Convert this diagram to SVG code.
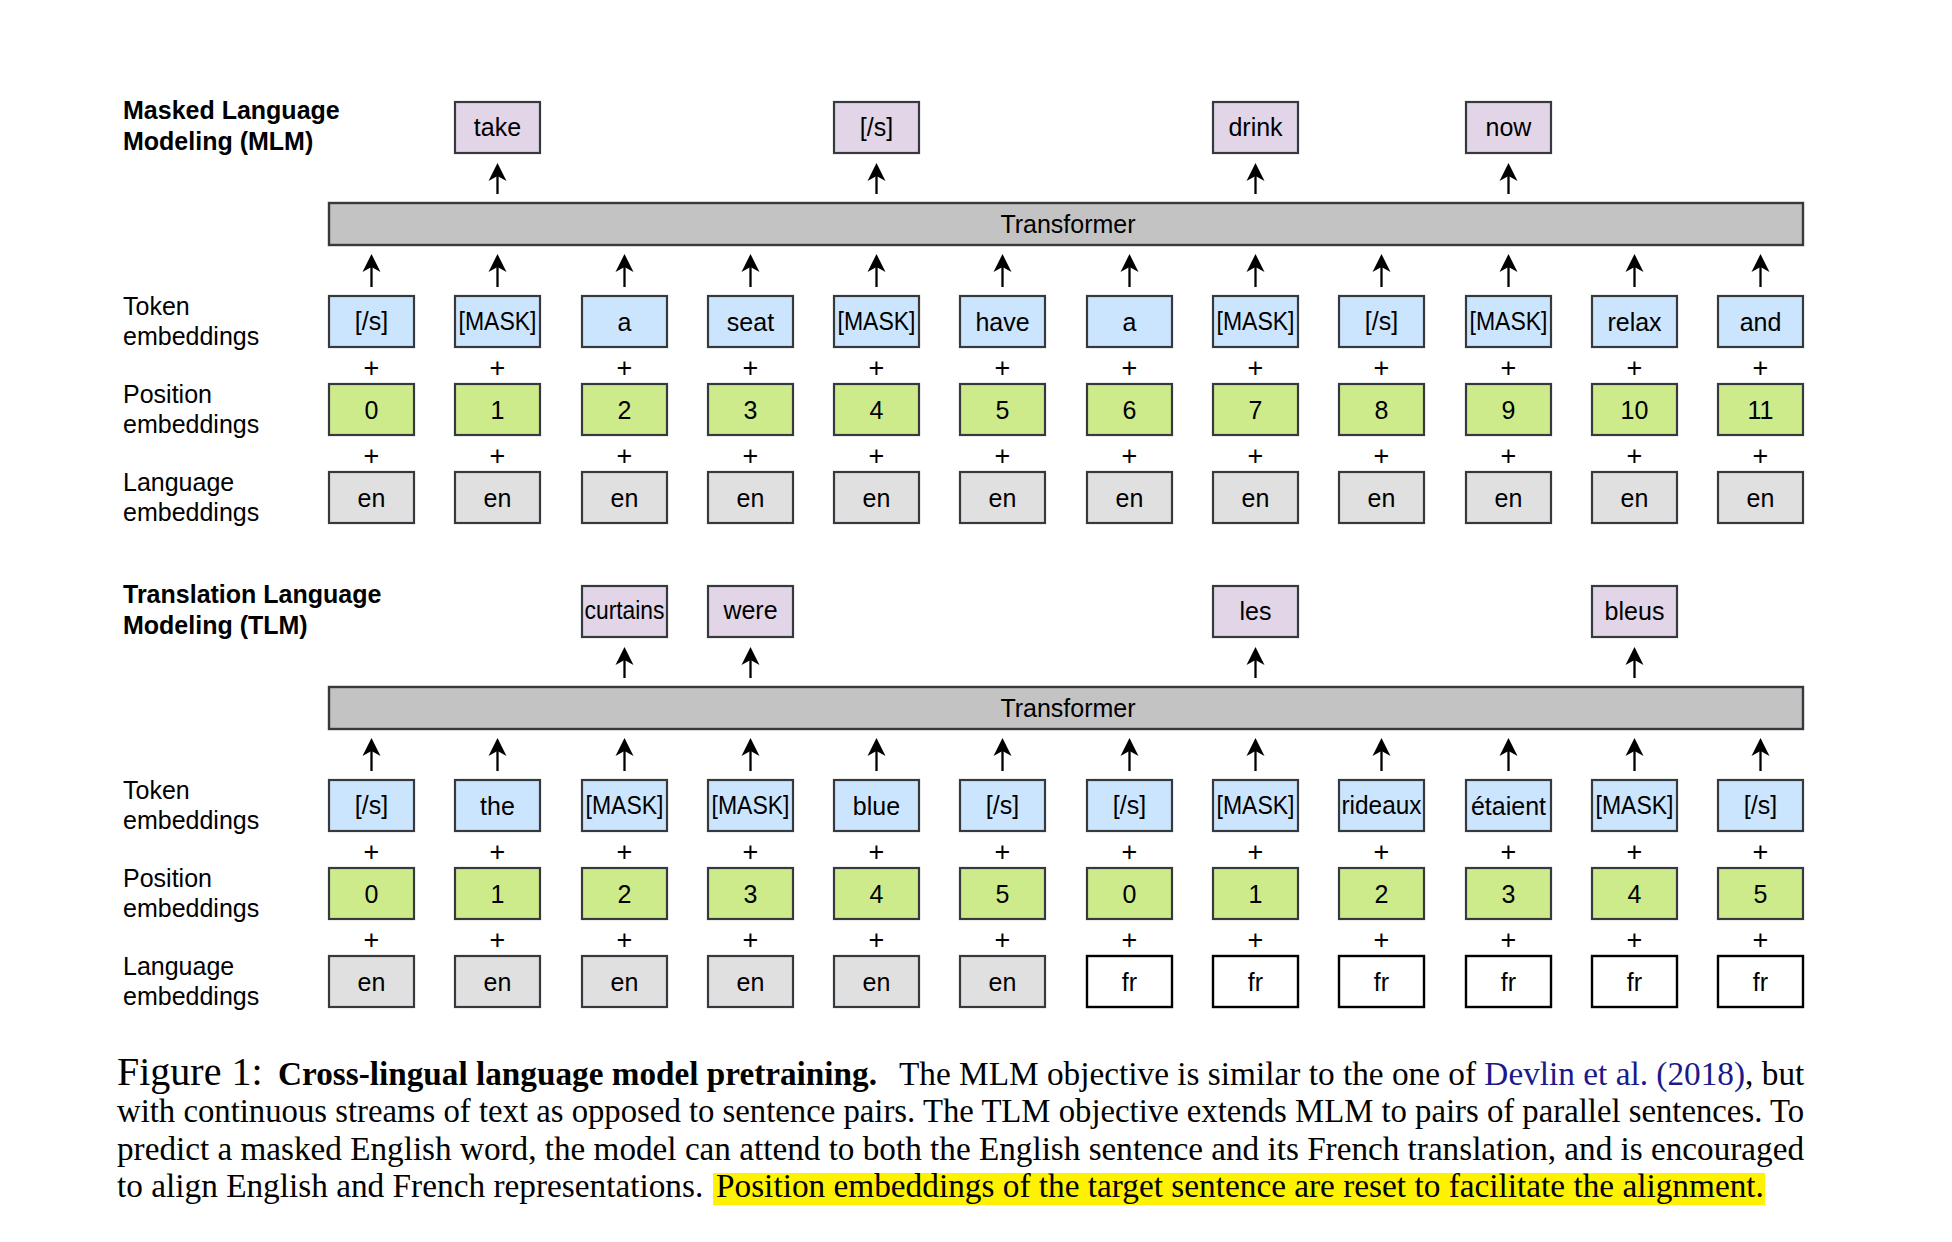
<svg xmlns="http://www.w3.org/2000/svg" width="1952" height="1242" viewBox="0 0 1952 1242">
<defs>
<style>
.bx{stroke:#36393d;stroke-width:2.2}
.out{fill:#e1d5e7}
.tok{fill:#cce5ff}
.pos{fill:#cdeb8b}
.en{fill:#e0e0e0}
.fr{fill:#ffffff;stroke:#000000;stroke-width:2.4}
.bar{fill:#c3c3c3;stroke:#36393d;stroke-width:2.4}
.t{font-family:"Liberation Sans",Arial,Helvetica,sans-serif;font-size:25px;fill:#000;text-anchor:middle}
.pl{font-family:"Liberation Sans",Arial,Helvetica,sans-serif;font-size:27px;fill:#000;text-anchor:middle}
.lb{font-family:"Liberation Sans",Arial,Helvetica,sans-serif;font-size:25px;fill:#000}
.ti{font-family:"Liberation Sans",Arial,Helvetica,sans-serif;font-size:25px;font-weight:bold;fill:#000}
.cap{font-family:"Liberation Serif","Times New Roman",serif;font-size:33.3px;fill:#000}
.arr{stroke:#000;stroke-width:2.3;fill:none;marker-end:url(#ah)}
</style>
<marker id="ah" markerWidth="20" markerHeight="20" refX="5" refY="10" orient="auto" markerUnits="userSpaceOnUse">
<path d="M0,1 L18,10 L0,19 L5,10 Z" fill="#000"/>
</marker>
</defs>
<rect width="1952" height="1242" fill="#fff"/>

<!-- ===== MLM ===== -->
<g id="mlm-title"><text class="ti" x="123" y="119">Masked Language</text><text class="ti" x="123" y="150">Modeling (MLM)</text></g>
<g id="mlm-labels">
<text class="lb" x="123" y="315">Token</text><text class="lb" x="123" y="345">embeddings</text>
<text class="lb" x="123" y="403">Position</text><text class="lb" x="123" y="433">embeddings</text>
<text class="lb" x="123" y="491">Language</text><text class="lb" x="123" y="521">embeddings</text>
</g>
<g id="mlm-out-take"><rect class="bx out" x="455" y="102" width="85" height="51"/><text class="t" x="497.5" y="136">take</text></g>
<g id="mlm-out-s"><rect class="bx out" x="834" y="102" width="85" height="51"/><text class="t" x="876.5" y="136">[/s]</text></g>
<g id="mlm-out-drink"><rect class="bx out" x="1213" y="102" width="85" height="51"/><text class="t" x="1255.5" y="136">drink</text></g>
<g id="mlm-out-now"><rect class="bx out" x="1466" y="102" width="85" height="51"/><text class="t" x="1508.5" y="136">now</text></g>
<g id="mlm-transformer"><rect class="bar" x="329" y="203" width="1474" height="42"/><text class="t" x="1068" y="233">Transformer</text></g>

<g id="mlm-tok-0"><rect class="bx tok" x="329" y="296" width="85" height="51"/><text class="t" x="371.5" y="330">[/s]</text></g>
<g id="mlm-tok-1"><rect class="bx tok" x="455" y="296" width="85" height="51"/><text class="t" x="497.5" y="330" textLength="78" lengthAdjust="spacingAndGlyphs">[MASK]</text></g>
<g id="mlm-tok-2"><rect class="bx tok" x="582" y="296" width="85" height="51"/><text class="t" x="624.5" y="331">a</text></g>
<g id="mlm-tok-3"><rect class="bx tok" x="708" y="296" width="85" height="51"/><text class="t" x="750.5" y="331">seat</text></g>
<g id="mlm-tok-4"><rect class="bx tok" x="834" y="296" width="85" height="51"/><text class="t" x="876.5" y="330" textLength="78" lengthAdjust="spacingAndGlyphs">[MASK]</text></g>
<g id="mlm-tok-5"><rect class="bx tok" x="960" y="296" width="85" height="51"/><text class="t" x="1002.5" y="331">have</text></g>
<g id="mlm-tok-6"><rect class="bx tok" x="1087" y="296" width="85" height="51"/><text class="t" x="1129.5" y="331">a</text></g>
<g id="mlm-tok-7"><rect class="bx tok" x="1213" y="296" width="85" height="51"/><text class="t" x="1255.5" y="330" textLength="78" lengthAdjust="spacingAndGlyphs">[MASK]</text></g>
<g id="mlm-tok-8"><rect class="bx tok" x="1339" y="296" width="85" height="51"/><text class="t" x="1381.5" y="330">[/s]</text></g>
<g id="mlm-tok-9"><rect class="bx tok" x="1466" y="296" width="85" height="51"/><text class="t" x="1508.5" y="330" textLength="78" lengthAdjust="spacingAndGlyphs">[MASK]</text></g>
<g id="mlm-tok-10"><rect class="bx tok" x="1592" y="296" width="85" height="51"/><text class="t" x="1634.5" y="331">relax</text></g>
<g id="mlm-tok-11"><rect class="bx tok" x="1718" y="296" width="85" height="51"/><text class="t" x="1760.5" y="331">and</text></g>

<g id="mlm-pos-0"><rect class="bx pos" x="329" y="384" width="85" height="51"/><text class="t" x="371.5" y="419">0</text></g>
<g id="mlm-pos-1"><rect class="bx pos" x="455" y="384" width="85" height="51"/><text class="t" x="497.5" y="419">1</text></g>
<g id="mlm-pos-2"><rect class="bx pos" x="582" y="384" width="85" height="51"/><text class="t" x="624.5" y="419">2</text></g>
<g id="mlm-pos-3"><rect class="bx pos" x="708" y="384" width="85" height="51"/><text class="t" x="750.5" y="419">3</text></g>
<g id="mlm-pos-4"><rect class="bx pos" x="834" y="384" width="85" height="51"/><text class="t" x="876.5" y="419">4</text></g>
<g id="mlm-pos-5"><rect class="bx pos" x="960" y="384" width="85" height="51"/><text class="t" x="1002.5" y="419">5</text></g>
<g id="mlm-pos-6"><rect class="bx pos" x="1087" y="384" width="85" height="51"/><text class="t" x="1129.5" y="419">6</text></g>
<g id="mlm-pos-7"><rect class="bx pos" x="1213" y="384" width="85" height="51"/><text class="t" x="1255.5" y="419">7</text></g>
<g id="mlm-pos-8"><rect class="bx pos" x="1339" y="384" width="85" height="51"/><text class="t" x="1381.5" y="419">8</text></g>
<g id="mlm-pos-9"><rect class="bx pos" x="1466" y="384" width="85" height="51"/><text class="t" x="1508.5" y="419">9</text></g>
<g id="mlm-pos-10"><rect class="bx pos" x="1592" y="384" width="85" height="51"/><text class="t" x="1634.5" y="419">10</text></g>
<g id="mlm-pos-11"><rect class="bx pos" x="1718" y="384" width="85" height="51"/><text class="t" x="1760.5" y="419">11</text></g>

<g id="mlm-lang-0"><rect class="bx en" x="329" y="472" width="85" height="51"/><text class="t" x="371.5" y="507">en</text></g>
<g id="mlm-lang-1"><rect class="bx en" x="455" y="472" width="85" height="51"/><text class="t" x="497.5" y="507">en</text></g>
<g id="mlm-lang-2"><rect class="bx en" x="582" y="472" width="85" height="51"/><text class="t" x="624.5" y="507">en</text></g>
<g id="mlm-lang-3"><rect class="bx en" x="708" y="472" width="85" height="51"/><text class="t" x="750.5" y="507">en</text></g>
<g id="mlm-lang-4"><rect class="bx en" x="834" y="472" width="85" height="51"/><text class="t" x="876.5" y="507">en</text></g>
<g id="mlm-lang-5"><rect class="bx en" x="960" y="472" width="85" height="51"/><text class="t" x="1002.5" y="507">en</text></g>
<g id="mlm-lang-6"><rect class="bx en" x="1087" y="472" width="85" height="51"/><text class="t" x="1129.5" y="507">en</text></g>
<g id="mlm-lang-7"><rect class="bx en" x="1213" y="472" width="85" height="51"/><text class="t" x="1255.5" y="507">en</text></g>
<g id="mlm-lang-8"><rect class="bx en" x="1339" y="472" width="85" height="51"/><text class="t" x="1381.5" y="507">en</text></g>
<g id="mlm-lang-9"><rect class="bx en" x="1466" y="472" width="85" height="51"/><text class="t" x="1508.5" y="507">en</text></g>
<g id="mlm-lang-10"><rect class="bx en" x="1592" y="472" width="85" height="51"/><text class="t" x="1634.5" y="507">en</text></g>
<g id="mlm-lang-11"><rect class="bx en" x="1718" y="472" width="85" height="51"/><text class="t" x="1760.5" y="507">en</text></g>

<g id="mlm-plus" class="pl">
<text x="371.5" y="377">+</text><text x="497.5" y="377">+</text><text x="624.5" y="377">+</text><text x="750.5" y="377">+</text><text x="876.5" y="377">+</text><text x="1002.5" y="377">+</text><text x="1129.5" y="377">+</text><text x="1255.5" y="377">+</text><text x="1381.5" y="377">+</text><text x="1508.5" y="377">+</text><text x="1634.5" y="377">+</text><text x="1760.5" y="377">+</text>
<text x="371.5" y="465">+</text><text x="497.5" y="465">+</text><text x="624.5" y="465">+</text><text x="750.5" y="465">+</text><text x="876.5" y="465">+</text><text x="1002.5" y="465">+</text><text x="1129.5" y="465">+</text><text x="1255.5" y="465">+</text><text x="1381.5" y="465">+</text><text x="1508.5" y="465">+</text><text x="1634.5" y="465">+</text><text x="1760.5" y="465">+</text>
</g>

<!-- ===== TLM ===== -->
<g id="tlm-title"><text class="ti" x="123" y="603">Translation Language</text><text class="ti" x="123" y="634">Modeling (TLM)</text></g>
<g id="tlm-labels">
<text class="lb" x="123" y="799">Token</text><text class="lb" x="123" y="829">embeddings</text>
<text class="lb" x="123" y="887">Position</text><text class="lb" x="123" y="917">embeddings</text>
<text class="lb" x="123" y="975">Language</text><text class="lb" x="123" y="1005">embeddings</text>
</g>
<g id="tlm-out-curtains"><rect class="bx out" x="582" y="586" width="85" height="51"/><text class="t" x="624.5" y="619" textLength="80" lengthAdjust="spacingAndGlyphs">curtains</text></g>
<g id="tlm-out-were"><rect class="bx out" x="708" y="586" width="85" height="51"/><text class="t" x="750.5" y="619">were</text></g>
<g id="tlm-out-les"><rect class="bx out" x="1213" y="586" width="85" height="51"/><text class="t" x="1255.5" y="620">les</text></g>
<g id="tlm-out-bleus"><rect class="bx out" x="1592" y="586" width="85" height="51"/><text class="t" x="1634.5" y="620">bleus</text></g>
<g id="tlm-transformer"><rect class="bar" x="329" y="687" width="1474" height="42"/><text class="t" x="1068" y="717">Transformer</text></g>

<g id="tlm-tok-0"><rect class="bx tok" x="329" y="780" width="85" height="51"/><text class="t" x="371.5" y="814">[/s]</text></g>
<g id="tlm-tok-1"><rect class="bx tok" x="455" y="780" width="85" height="51"/><text class="t" x="497.5" y="815">the</text></g>
<g id="tlm-tok-2"><rect class="bx tok" x="582" y="780" width="85" height="51"/><text class="t" x="624.5" y="814" textLength="78" lengthAdjust="spacingAndGlyphs">[MASK]</text></g>
<g id="tlm-tok-3"><rect class="bx tok" x="708" y="780" width="85" height="51"/><text class="t" x="750.5" y="814" textLength="78" lengthAdjust="spacingAndGlyphs">[MASK]</text></g>
<g id="tlm-tok-4"><rect class="bx tok" x="834" y="780" width="85" height="51"/><text class="t" x="876.5" y="815">blue</text></g>
<g id="tlm-tok-5"><rect class="bx tok" x="960" y="780" width="85" height="51"/><text class="t" x="1002.5" y="814">[/s]</text></g>
<g id="tlm-tok-6"><rect class="bx tok" x="1087" y="780" width="85" height="51"/><text class="t" x="1129.5" y="814">[/s]</text></g>
<g id="tlm-tok-7"><rect class="bx tok" x="1213" y="780" width="85" height="51"/><text class="t" x="1255.5" y="814" textLength="78" lengthAdjust="spacingAndGlyphs">[MASK]</text></g>
<g id="tlm-tok-8"><rect class="bx tok" x="1339" y="780" width="85" height="51"/><text class="t" x="1381.5" y="814" textLength="80" lengthAdjust="spacingAndGlyphs">rideaux</text></g>
<g id="tlm-tok-9"><rect class="bx tok" x="1466" y="780" width="85" height="51"/><text class="t" x="1508.5" y="815">étaient</text></g>
<g id="tlm-tok-10"><rect class="bx tok" x="1592" y="780" width="85" height="51"/><text class="t" x="1634.5" y="814" textLength="78" lengthAdjust="spacingAndGlyphs">[MASK]</text></g>
<g id="tlm-tok-11"><rect class="bx tok" x="1718" y="780" width="85" height="51"/><text class="t" x="1760.5" y="814">[/s]</text></g>

<g id="tlm-pos-0"><rect class="bx pos" x="329" y="868" width="85" height="51"/><text class="t" x="371.5" y="903">0</text></g>
<g id="tlm-pos-1"><rect class="bx pos" x="455" y="868" width="85" height="51"/><text class="t" x="497.5" y="903">1</text></g>
<g id="tlm-pos-2"><rect class="bx pos" x="582" y="868" width="85" height="51"/><text class="t" x="624.5" y="903">2</text></g>
<g id="tlm-pos-3"><rect class="bx pos" x="708" y="868" width="85" height="51"/><text class="t" x="750.5" y="903">3</text></g>
<g id="tlm-pos-4"><rect class="bx pos" x="834" y="868" width="85" height="51"/><text class="t" x="876.5" y="903">4</text></g>
<g id="tlm-pos-5"><rect class="bx pos" x="960" y="868" width="85" height="51"/><text class="t" x="1002.5" y="903">5</text></g>
<g id="tlm-pos-6"><rect class="bx pos" x="1087" y="868" width="85" height="51"/><text class="t" x="1129.5" y="903">0</text></g>
<g id="tlm-pos-7"><rect class="bx pos" x="1213" y="868" width="85" height="51"/><text class="t" x="1255.5" y="903">1</text></g>
<g id="tlm-pos-8"><rect class="bx pos" x="1339" y="868" width="85" height="51"/><text class="t" x="1381.5" y="903">2</text></g>
<g id="tlm-pos-9"><rect class="bx pos" x="1466" y="868" width="85" height="51"/><text class="t" x="1508.5" y="903">3</text></g>
<g id="tlm-pos-10"><rect class="bx pos" x="1592" y="868" width="85" height="51"/><text class="t" x="1634.5" y="903">4</text></g>
<g id="tlm-pos-11"><rect class="bx pos" x="1718" y="868" width="85" height="51"/><text class="t" x="1760.5" y="903">5</text></g>

<g id="tlm-lang-0"><rect class="bx en" x="329" y="956" width="85" height="51"/><text class="t" x="371.5" y="991">en</text></g>
<g id="tlm-lang-1"><rect class="bx en" x="455" y="956" width="85" height="51"/><text class="t" x="497.5" y="991">en</text></g>
<g id="tlm-lang-2"><rect class="bx en" x="582" y="956" width="85" height="51"/><text class="t" x="624.5" y="991">en</text></g>
<g id="tlm-lang-3"><rect class="bx en" x="708" y="956" width="85" height="51"/><text class="t" x="750.5" y="991">en</text></g>
<g id="tlm-lang-4"><rect class="bx en" x="834" y="956" width="85" height="51"/><text class="t" x="876.5" y="991">en</text></g>
<g id="tlm-lang-5"><rect class="bx en" x="960" y="956" width="85" height="51"/><text class="t" x="1002.5" y="991">en</text></g>
<g id="tlm-lang-6"><rect class="fr" x="1087" y="956" width="85" height="51"/><text class="t" x="1129.5" y="991">fr</text></g>
<g id="tlm-lang-7"><rect class="fr" x="1213" y="956" width="85" height="51"/><text class="t" x="1255.5" y="991">fr</text></g>
<g id="tlm-lang-8"><rect class="fr" x="1339" y="956" width="85" height="51"/><text class="t" x="1381.5" y="991">fr</text></g>
<g id="tlm-lang-9"><rect class="fr" x="1466" y="956" width="85" height="51"/><text class="t" x="1508.5" y="991">fr</text></g>
<g id="tlm-lang-10"><rect class="fr" x="1592" y="956" width="85" height="51"/><text class="t" x="1634.5" y="991">fr</text></g>
<g id="tlm-lang-11"><rect class="fr" x="1718" y="956" width="85" height="51"/><text class="t" x="1760.5" y="991">fr</text></g>

<g id="tlm-plus" class="pl">
<text x="371.5" y="861">+</text><text x="497.5" y="861">+</text><text x="624.5" y="861">+</text><text x="750.5" y="861">+</text><text x="876.5" y="861">+</text><text x="1002.5" y="861">+</text><text x="1129.5" y="861">+</text><text x="1255.5" y="861">+</text><text x="1381.5" y="861">+</text><text x="1508.5" y="861">+</text><text x="1634.5" y="861">+</text><text x="1760.5" y="861">+</text>
<text x="371.5" y="949">+</text><text x="497.5" y="949">+</text><text x="624.5" y="949">+</text><text x="750.5" y="949">+</text><text x="876.5" y="949">+</text><text x="1002.5" y="949">+</text><text x="1129.5" y="949">+</text><text x="1255.5" y="949">+</text><text x="1381.5" y="949">+</text><text x="1508.5" y="949">+</text><text x="1634.5" y="949">+</text><text x="1760.5" y="949">+</text>
</g>

<!-- ===== connectors ===== -->
<g id="connectors">
<path class="arr" d="M497.5,194V176"/><path class="arr" d="M876.5,194V176"/><path class="arr" d="M1255.5,194V176"/><path class="arr" d="M1508.5,194V176"/>
<path class="arr" d="M371.5,287V267"/><path class="arr" d="M497.5,287V267"/><path class="arr" d="M624.5,287V267"/><path class="arr" d="M750.5,287V267"/><path class="arr" d="M876.5,287V267"/><path class="arr" d="M1002.5,287V267"/><path class="arr" d="M1129.5,287V267"/><path class="arr" d="M1255.5,287V267"/><path class="arr" d="M1381.5,287V267"/><path class="arr" d="M1508.5,287V267"/><path class="arr" d="M1634.5,287V267"/><path class="arr" d="M1760.5,287V267"/>
<path class="arr" d="M624.5,678V660"/><path class="arr" d="M750.5,678V660"/><path class="arr" d="M1255.5,678V660"/><path class="arr" d="M1634.5,678V660"/>
<path class="arr" d="M371.5,771V751"/><path class="arr" d="M497.5,771V751"/><path class="arr" d="M624.5,771V751"/><path class="arr" d="M750.5,771V751"/><path class="arr" d="M876.5,771V751"/><path class="arr" d="M1002.5,771V751"/><path class="arr" d="M1129.5,771V751"/><path class="arr" d="M1255.5,771V751"/><path class="arr" d="M1381.5,771V751"/><path class="arr" d="M1508.5,771V751"/><path class="arr" d="M1634.5,771V751"/><path class="arr" d="M1760.5,771V751"/>
</g>

<!-- ===== caption ===== -->
<g id="caption">
<rect x="713" y="1173" width="1052" height="32" fill="#fff200"/>
<text class="cap" y="1085"><tspan x="117" font-size="40">Figure 1:</tspan><tspan x="278" font-weight="bold" textLength="599" lengthAdjust="spacingAndGlyphs">Cross-lingual language model pretraining.</tspan><tspan x="899">The MLM objective is similar to the one of </tspan><tspan fill="#1a1a8c">Devlin et al. (2018)</tspan><tspan>, but</tspan></text>
<text class="cap" x="117" y="1122" textLength="1687" lengthAdjust="spacingAndGlyphs">with continuous streams of text as opposed to sentence pairs. The TLM objective extends MLM to pairs of parallel sentences. To</text>
<text class="cap" x="117" y="1160" textLength="1687" lengthAdjust="spacingAndGlyphs">predict a masked English word, the model can attend to both the English sentence and its French translation, and is encouraged</text>
<text class="cap" y="1197"><tspan x="117">to align English and French representations.</tspan><tspan x="716">Position embeddings of the target sentence are reset to facilitate the alignment.</tspan></text>
</g>
</svg>
